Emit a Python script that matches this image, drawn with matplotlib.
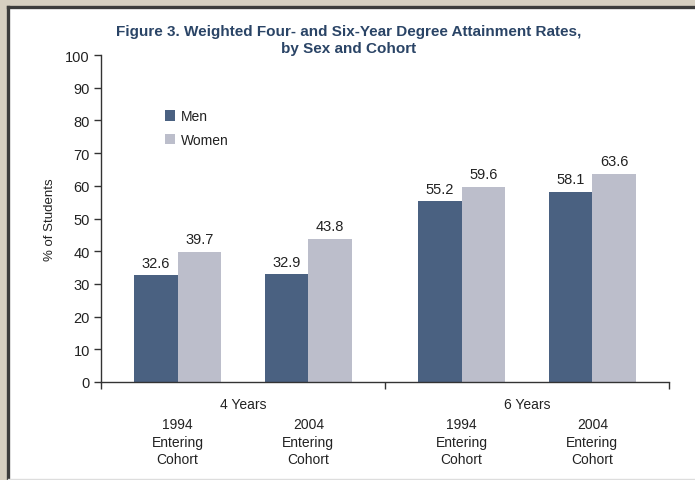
import matplotlib
matplotlib.use("Agg")
import matplotlib.pyplot as plt
from matplotlib import font_manager
from matplotlib.patches import Rectangle
from matplotlib.lines import Line2D
from matplotlib.transforms import blended_transform_factory

groups = ["4 Years", "6 Years"]
cohorts = ["1994\nEntering\nCohort", "2004\nEntering\nCohort",
           "1994\nEntering\nCohort", "2004\nEntering\nCohort"]
men = [32.6, 32.9, 55.2, 58.1]
women = [39.7, 43.8, 59.6, 63.6]
series_names = ["Men", "Women"]
yticks = [0, 10, 20, 30, 40, 50, 60, 70, 80, 90, 100]

MEN_C = "#4a6181"
WOMEN_C = "#bcbecb"
TITLE_C = "#2a4466"
TXT = "#222222"


def has_font(name):
    try:
        font_manager.findfont(name, fallback_to_default=False)
        return True
    except Exception:
        return False


NARROW = "Liberation Sans Narrow" if has_font("Liberation Sans Narrow") else "Liberation Sans"
FONT = [NARROW, "DejaVu Sans"]

fig = plt.figure(figsize=(6.95, 4.81), dpi=100)
fig.patch.set_facecolor("#d6cfc1")
W, H = 695, 481
fig.patches.append(Rectangle((7 / W, 0), 1 - 7 / W, 1 - 7 / H, transform=fig.transFigure,
                             facecolor="white", edgecolor="none", zorder=-5))
fig.lines.append(Line2D([8 / W, 8 / W], [0, 1 - 7.5 / H], transform=fig.transFigure,
                        color="#3c3c3c", lw=2.4, zorder=-4))
fig.lines.append(Line2D([8 / W, 1], [1 - 7.5 / H, 1 - 7.5 / H], transform=fig.transFigure,
                        color="#3c3c3c", lw=2.4, zorder=-4))
fig.lines.append(Line2D([8 / W, 1], [1 - 479.5 / H, 1 - 479.5 / H], transform=fig.transFigure,
                        color="#dddddd", lw=1, zorder=-4))

ax = fig.add_axes([101 / W, 1 - 383 / H, 568 / W, 327 / H], zorder=2)
ax.patch.set_alpha(0)

centers = [0.54, 1.46, 2.54, 3.46]
bw = 0.306
bm = ax.bar([c - bw / 2 for c in centers], men, width=bw, color=MEN_C, label=series_names[0], zorder=2)
bwn = ax.bar([c + bw / 2 for c in centers], women, width=bw, color=WOMEN_C, label=series_names[1], zorder=2)

for bars, vals in ((bm, men), (bwn, women)):
    for b, v in zip(bars, vals):
        ax.text(b.get_x() + b.get_width() / 2, v + 1.8, f"{v:.1f}", ha="center", va="bottom",
                fontsize=10.5, color=TXT, family=FONT)

ax.set_xlim(0, 4)
ax.set_ylim(0, 100)
ax.set_yticks(yticks)
ax.set_yticklabels([str(t) for t in yticks], fontsize=10.5, color=TXT, family=FONT)
ax.set_xticks([0, 2, 4])
ax.set_xticklabels([])
ax.tick_params(axis="y", length=5, width=1, color="#333333", pad=3)
ax.tick_params(axis="x", length=5, width=1, color="#333333", direction="out")
for s in ("top", "right"):
    ax.spines[s].set_visible(False)
for s in ("left", "bottom"):
    ax.spines[s].set_color("#333333")
    ax.spines[s].set_linewidth(1)

ax.set_ylabel("% of Students", fontsize=9.5, color=TXT, labelpad=7, family=FONT)

tr = blended_transform_factory(ax.transData, ax.transAxes)
for i, g in enumerate(groups):
    ax.text(1 + 2 * i, -22 / 327, g, transform=tr, ha="center", va="center",
            fontsize=10, color=TXT, family=FONT)
for c, lab in zip(centers, cohorts):
    ax.text(c, -35.5 / 327, lab, transform=tr, ha="center", va="top",
            fontsize=10, color=TXT, family=FONT, linespacing=1.28)

leg = ax.legend(loc="upper left", bbox_to_anchor=(0.09, 0.872), frameon=False,
                handlelength=0.75, handleheight=0.75, handletextpad=0.4,
                labelspacing=0.7, prop={"family": FONT, "size": 10})
for t in leg.get_texts():
    t.set_color(TXT)

fig.text(0.502, 0.916, "Figure 3. Weighted Four- and Six-Year Degree Attainment Rates,\nby Sex and Cohort",
         ha="center", va="center", fontsize=11, fontweight="bold", color=TITLE_C,
         family=FONT, linespacing=1.25)

fig.savefig("out.png", dpi=100, facecolor=fig.get_facecolor())
